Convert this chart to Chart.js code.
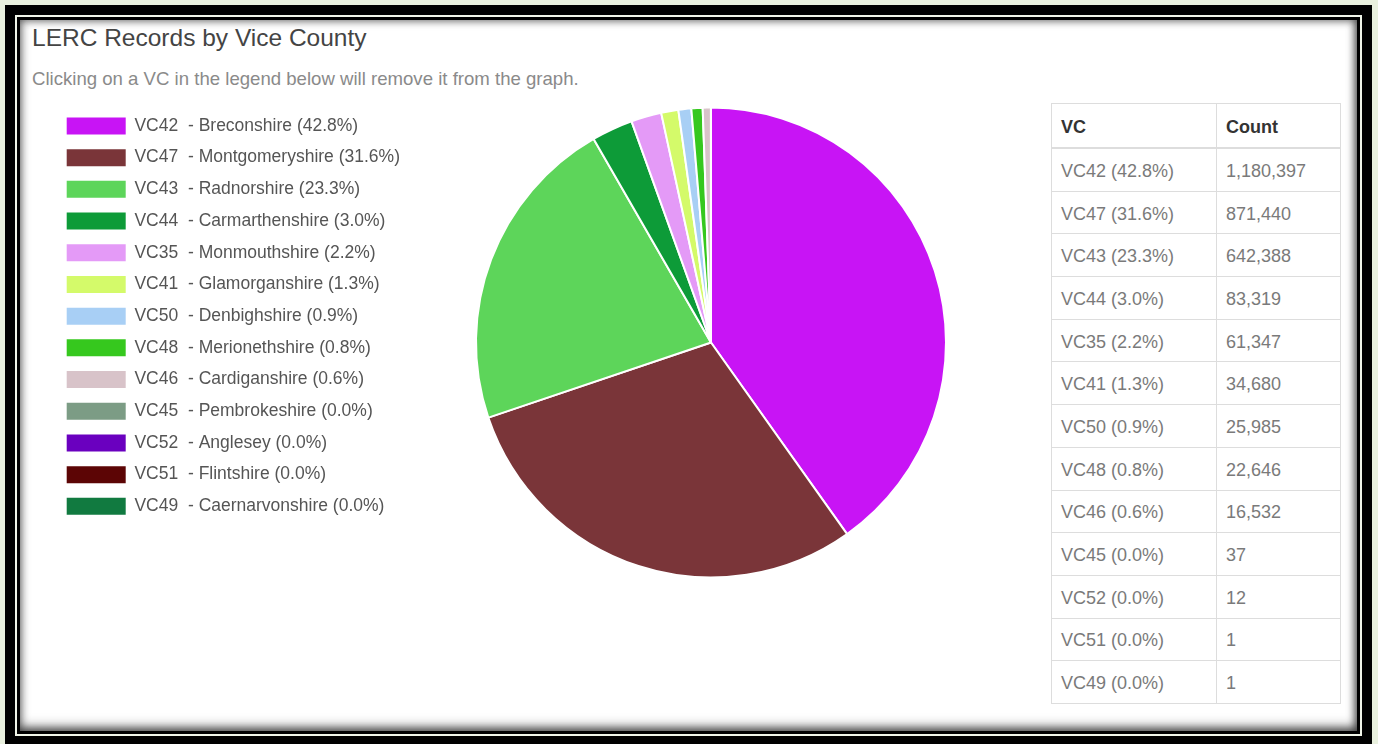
<!DOCTYPE html>
<html>
<head>
<meta charset="utf-8">
<script src="https://cdn.jsdelivr.net/npm/chart.js@4"></script>
<style>
  body { margin: 0; width: 1378px; height: 744px; background: #e9f0de; overflow: hidden; font-family: "Liberation Sans", Arial, sans-serif; }
  .frame {
    position: absolute; left: 20px; top: 20px; width: 1337px; height: 711px; background: #fff;
    box-shadow: inset 0 -6px 12px -2px rgba(0,0,0,0.5), inset -3px 0 8px -1px rgba(0,0,0,0.35), inset 0 0 8px 1px rgba(0,0,0,0.4),
      0 0 0 3px #000, 0 0 0 5px #f0f5e8, 0 0 0 15px #000;
  }
  h3 { position: absolute; left: 32px; top: 24px; margin: 0; font-weight: normal; font-size: 24.5px; color: #444; line-height: 28px; }
  .sub { position: absolute; left: 32px; top: 68px; margin: 0; font-size: 18.6px; color: #8a8a8a; line-height: 21px; }
  #wrap { position: absolute; left: 20px; top: 102.5px; width: 992px; height: 479px; }
  table { position: absolute; left: 1051px; top: 103px; width: 290px; border-collapse: collapse; font-size: 18px; }
  td, th { border: 1px solid #ddd; text-align: left; padding: 3px 9px 0 9px; height: 38.7px; color: #7a7a7a; }
  th { color: #333; font-weight: bold; height: 40px; border-bottom: 2px solid #ddd; }
  td:first-child, th:first-child { width: 146px; }
</style>
</head>
<body>
<div class="frame"></div>
<h3>LERC Records by Vice County</h3>
<p class="sub">Clicking on a VC in the legend below will remove it from the graph.</p>
<div id="wrap"><canvas id="pie"></canvas></div>
<table id="tbl"></table>
<script>
var codes = ['VC42', 'VC47', 'VC43', 'VC44', 'VC35', 'VC41', 'VC50', 'VC48', 'VC46', 'VC45', 'VC52', 'VC51', 'VC49'];
var names = ['Breconshire', 'Montgomeryshire', 'Radnorshire', 'Carmarthenshire', 'Monmouthshire', 'Glamorganshire',
  'Denbighshire', 'Merionethshire', 'Cardiganshire', 'Pembrokeshire', 'Anglesey', 'Flintshire', 'Caernarvonshire'];
var percents = ['42.8%', '31.6%', '23.3%', '3.0%', '2.2%', '1.3%', '0.9%', '0.8%', '0.6%', '0.0%', '0.0%', '0.0%', '0.0%'];
var counts = [1180397, 871440, 642388, 83319, 61347, 34680, 25985, 22646, 16532, 37, 12, 1, 1];
var colours = ['#c814f5', '#7a3539', '#5dd55a', '#0d9b38', '#e49af7', '#d4fa6a', '#a8cff5', '#36c81e',
  '#d8c3c9', '#7c9c85', '#6a00bf', '#5c0505', '#117a40'];

// table on the right
var html = '<tr><th>VC</th><th>Count</th></tr>';
for (var i = 0; i < codes.length; i++) {
  html += '<tr><td>' + codes[i] + ' (' + percents[i] + ')</td><td>' + counts[i].toLocaleString('en-GB') + '</td></tr>';
}
document.getElementById('tbl').innerHTML = html;

const ctx = document.getElementById('pie').getContext('2d');
var pieChart = new Chart(ctx, {
  type: 'pie',
  data: {
    labels: codes,
    datasets: [{
      data: counts,
      backgroundColor: colours,
      borderColor: '#fff',
      borderWidth: 2,
      hoverOffset: 0
    }]
  },
  options: {
    responsive: true,
    maintainAspectRatio: false,
    animation: false,
    radius: 235,
    layout: { padding: { left: 32.5 } },
    plugins: {
      legend: {
        position: 'left',
        align: 'start',
        labels: {
          boxWidth: 59,
          boxHeight: 17,
          padding: 14.2,
          color: '#555',
          font: { family: '"Liberation Sans", Arial, sans-serif', size: 17.5 },
          generateLabels: function(chart) {
            return codes.map(function(c, i) {
              return {
                text: c + '  - ' + names[i] + ' (' + percents[i] + ')',
                fillStyle: colours[i],
                strokeStyle: colours[i],
                fontColor: '#555',
                lineWidth: 0,
                hidden: !chart.getDataVisibility(i),
                index: i
              };
            });
          }
        }
      }
    }
  }
});
</script>
</body>
</html>
